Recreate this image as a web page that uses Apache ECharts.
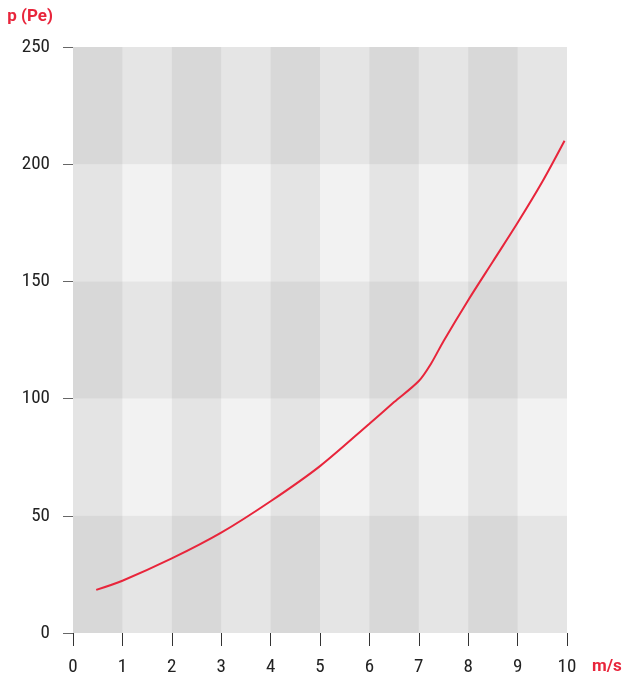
<!DOCTYPE html>
<html>
<head>
<meta charset="utf-8">
<script src="https://cdn.jsdelivr.net/npm/echarts@6/dist/echarts.min.js"></script>
<style>
html,body{margin:0;padding:0;background:#fff;overflow:hidden;}
#chart{width:622px;height:675px;}
</style>
</head>
<body>
<div id="chart"></div>
<script>
// Data
var speedMs = [0.47, 1, 2, 3, 4, 5, 6, 6.5, 7, 7.25, 7.5, 8, 8.5, 9, 9.5, 9.95];
var pressurePe = [18.4, 22.3, 31.8, 42.8, 56.2, 71.2, 89.3, 98.5, 107.5, 115, 124.5, 142, 158.5, 175, 192.5, 210];
var xTicks = [0, 1, 2, 3, 4, 5, 6, 7, 8, 9, 10];
var yTicks = [0, 50, 100, 150, 200, 250];
var xName = 'm/s';
var yName = 'p (Pe)';

var RED = '#e8253b';
var FONT = "'Roboto Condensed', 'Liberation Sans Narrow', 'DejaVu Sans Condensed', Roboto, sans-serif";

var chart = echarts.init(document.getElementById('chart'), null, {renderer: 'canvas'});
var lineData = speedMs.map(function (x, i) { return [x, pressurePe[i]]; });

chart.setOption({
  animation: false,
  backgroundColor: '#ffffff',
  grid: {left: 73, right: 55, top: 47, bottom: 42, containLabel: false, outerBoundsMode: 'none'},
  xAxis: {
    type: 'value',
    min: xTicks[0],
    max: xTicks[xTicks.length - 1],
    interval: 1,
    name: xName,
    nameLocation: 'end',
    nameGap: 25,
    nameTextStyle: {color: RED, fontWeight: 'bold', fontSize: 17, fontFamily: 'Roboto', verticalAlign: 'top', padding: [25, 0, 0, 0]},
    axisLine: {show: false},
    axisTick: {show: true, length: 13, lineStyle: {color: '#333', width: 1}},
    axisLabel: {color: '#222', fontSize: 19, fontFamily: FONT, margin: 25},
    splitLine: {show: false},
    splitArea: {show: true, areaStyle: {color: ['rgba(0,0,0,0.053)', 'rgba(0,0,0,0)']}}
  },
  yAxis: {
    type: 'value',
    min: yTicks[0],
    max: yTicks[yTicks.length - 1],
    interval: 50,
    name: yName,
    nameLocation: 'end',
    nameGap: 22,
    nameTextStyle: {color: RED, fontWeight: 'bold', fontSize: 17, fontFamily: 'Roboto', align: 'right', padding: [0, 20, 0, 0]},
    axisLine: {show: false},
    axisTick: {show: true, length: 10, lineStyle: {color: '#666', width: 1}},
    axisLabel: {color: '#222', fontSize: 19, fontFamily: FONT, margin: 23},
    splitLine: {show: false},
    splitArea: {show: true, areaStyle: {color: ['rgba(0,0,0,0.102)', 'rgba(0,0,0,0.051)']}}
  },
  series: [{
    type: 'line',
    data: lineData,
    smooth: 0.3,
    showSymbol: false,
    symbol: 'none',
    lineStyle: {color: RED, width: 2}
  }]
});
</script>
</body>
</html>
